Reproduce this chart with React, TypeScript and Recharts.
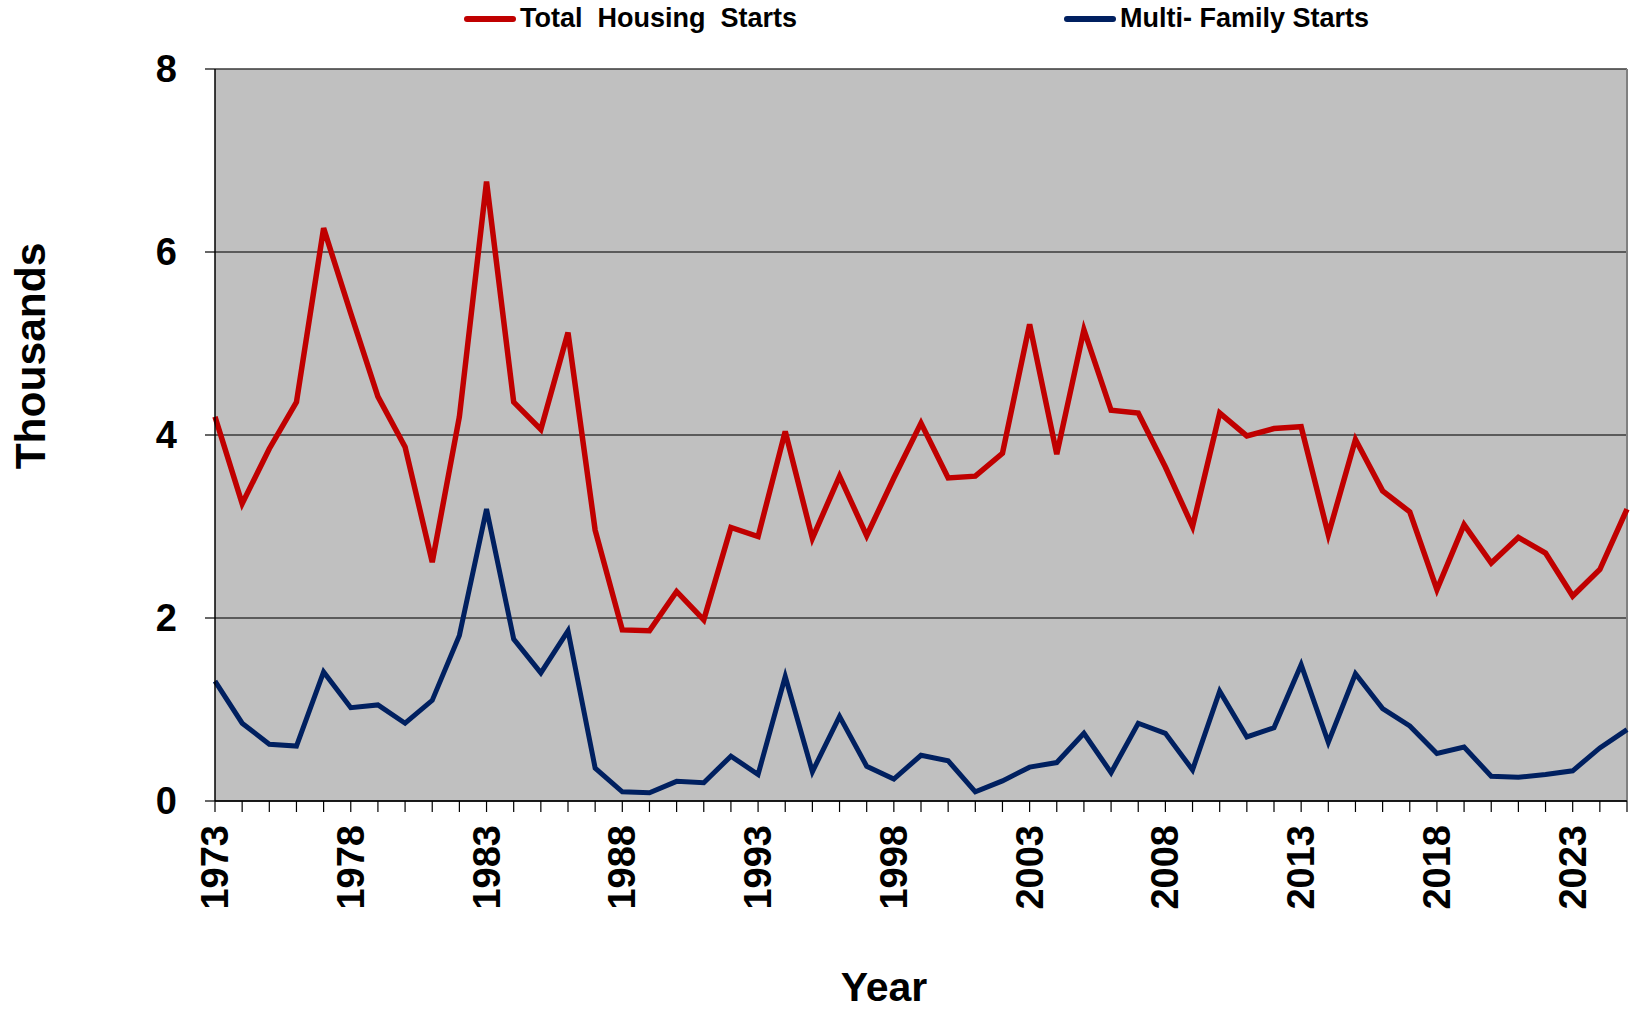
import { LineChart, Line, XAxis, YAxis, CartesianGrid, ReferenceLine, Label } from 'recharts';

const years = [
    '1973', '1974', '1975', '1976', '1977', '1978', '1979', '1980', '1981', '1982',
    '1983', '1984', '1985', '1986', '1987', '1988', '1989', '1990', '1991', '1992',
    '1993', '1994', '1995', '1996', '1997', '1998', '1999', '2000', '2001', '2002',
    '2003', '2004', '2005', '2006', '2007', '2008', '2009', '2010', '2011', '2012',
    '2013', '2014', '2015', '2016', '2017', '2018', '2019', '2020', '2021', '2022',
    '2023', '2024', '2025',
];

const totalStarts = [
    4.2, 3.25, 3.85, 4.36, 6.26, 5.33, 4.42, 3.87, 2.61, 4.2,
    6.77, 4.36, 4.06, 5.12, 2.96, 1.87, 1.86, 2.29, 1.98, 2.99,
    2.89, 4.04, 2.87, 3.55, 2.9, 3.53, 4.13, 3.53, 3.55, 3.8,
    5.21, 3.79, 5.15, 4.27, 4.24, 3.65, 3.0, 4.24, 3.99, 4.07,
    4.09, 2.91, 3.95, 3.39, 3.16, 2.31, 3.02, 2.6, 2.88, 2.71,
    2.24, 2.53, 3.19,
];

const multiFamilyStarts = [
    1.31, 0.85, 0.62, 0.6, 1.41, 1.02, 1.05, 0.85, 1.1, 1.81,
    3.19, 1.77, 1.4, 1.86, 0.36, 0.1, 0.09, 0.215, 0.2, 0.49,
    0.29, 1.36, 0.32, 0.925, 0.38, 0.24, 0.5, 0.44, 0.1, 0.22,
    0.37, 0.42, 0.74, 0.31, 0.85, 0.74, 0.34, 1.2, 0.7, 0.8,
    1.49, 0.64, 1.39, 1.01, 0.82, 0.52, 0.59, 0.27, 0.26, 0.29,
    0.33, 0.58, 0.78,
];

const yTicks = [0, 2, 4, 6, 8];
const labelEvery = 5;

const seriesNames = ['Total  Housing  Starts', 'Multi- Family Starts'];
const seriesColors = ['#C00000', '#002060'];

const FONT = '"Liberation Sans", Arial, Helvetica, sans-serif';

const data = years.map((year, i) => ({
    year,
    total: totalStarts[i],
    multi: multiFamilyStarts[i],
}));

// only every fifth year gets a label, but every year keeps its tick mark
const YearTick = ({ x, y, payload, index }: any) => {
    if (index % labelEvery !== 0) return null;
    return (
        <text
            x={x}
            y={y}
            transform={`rotate(-90, ${x}, ${y})`}
            textAnchor="end"
            dominantBaseline="central"
            fontFamily={FONT}
            fontWeight="bold"
            fontSize={38}
            fill="#000"
        >
            {payload.value}
        </text>
    );
};

const legendLeft = [464, 1064];

const App = () => {
    return (
        <div style={{ position: 'absolute', left: 0, top: 0, width: 1632, height: 1012, background: '#fff' }}>
            {seriesNames.map((name, i) => (
                <div
                    key={name}
                    style={{
                        position: 'absolute',
                        left: legendLeft[i],
                        top: 3,
                        display: 'flex',
                        alignItems: 'center',
                        fontFamily: FONT,
                        fontWeight: 'bold',
                        fontSize: 27,
                        whiteSpace: 'pre',
                        color: '#000',
                    }}
                >
                    <span
                        style={{
                            display: 'inline-block',
                            width: 52,
                            height: 6,
                            borderRadius: 3,
                            background: seriesColors[i],
                            marginRight: 4,
                        }}
                    />
                    <span>{name}</span>
                </div>
            ))}
            <LineChart width={1632} height={1012} data={data} margin={{ top: 69, right: 5, left: 0, bottom: 0 }}>
                <CartesianGrid
                    vertical={false}
                    fill="#C0C0C0"
                    fillOpacity={1}
                    stroke="#3a3a3a"
                    strokeWidth={1.3}
                />
                <XAxis
                    dataKey="year"
                    interval={0}
                    height={211}
                    tick={<YearTick />}
                    tickSize={11}
                    tickMargin={13}
                    tickLine={{ stroke: '#000', strokeWidth: 1.2 }}
                    axisLine={{ stroke: '#000', strokeWidth: 1.5 }}
                >
                    <Label
                        content={({ viewBox }: any) => (
                            <text
                                x={viewBox.x + viewBox.width / 2 - 37}
                                y={viewBox.y + 186}
                                textAnchor="middle"
                                dominantBaseline="central"
                                fontFamily={FONT}
                                fontWeight="bold"
                                fontSize={41}
                                fill="#000"
                            >
                                Year
                            </text>
                        )}
                    />
                </XAxis>
                <YAxis
                    domain={[0, 8]}
                    ticks={yTicks}
                    width={215}
                    tickSize={10}
                    tickMargin={28}
                    tick={{ fontFamily: FONT, fontWeight: 'bold', fontSize: 38, fill: '#000' }}
                    tickLine={{ stroke: '#000', strokeWidth: 1.2 }}
                    axisLine={{ stroke: '#000', strokeWidth: 1.5 }}
                >
                    <Label
                        content={({ viewBox }: any) => {
                            const cx = 30;
                            const cy = viewBox.y + viewBox.height / 2 - 79;
                            return (
                                <text
                                    x={cx}
                                    y={cy}
                                    transform={`rotate(-90, ${cx}, ${cy})`}
                                    textAnchor="middle"
                                    dominantBaseline="central"
                                    fontFamily={FONT}
                                    fontWeight="bold"
                                    fontSize={42.5}
                                    fill="#000"
                                >
                                    Thousands
                                </text>
                            );
                        }}
                    />
                </YAxis>
                <ReferenceLine x={years[years.length - 1]} stroke="#808080" strokeWidth={2} />
                <Line
                    type="linear"
                    dataKey="total"
                    name={seriesNames[0]}
                    stroke={seriesColors[0]}
                    strokeWidth={5.5}
                    dot={false}
                    isAnimationActive={false}
                />
                <Line
                    type="linear"
                    dataKey="multi"
                    name={seriesNames[1]}
                    stroke={seriesColors[1]}
                    strokeWidth={5}
                    dot={false}
                    isAnimationActive={false}
                />
            </LineChart>
        </div>
    );
};

export default App;
